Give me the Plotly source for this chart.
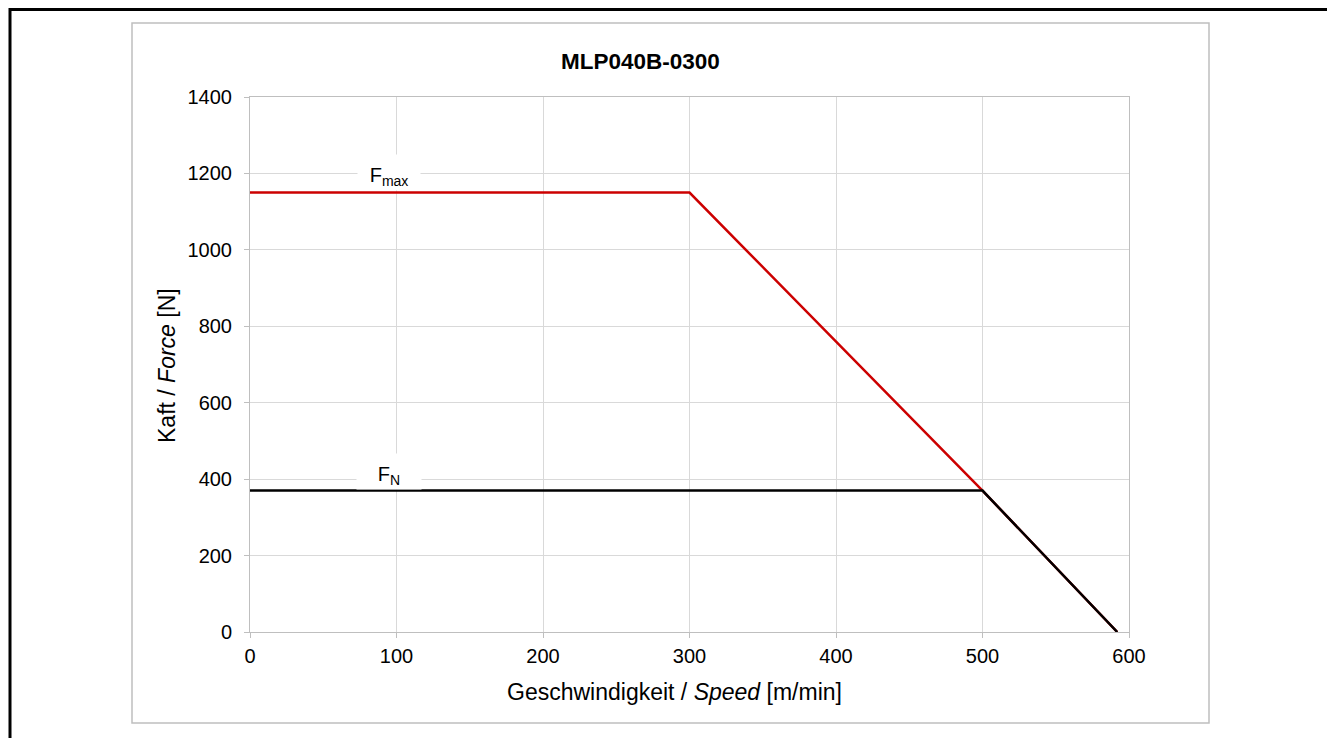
import plotly.graph_objects as go

# Data
fmax_speed = [0, 300, 500, 592]
fmax_force = [1150, 1150, 370, 0]
fn_speed = [0, 500, 592]
fn_force = [370, 370, 0]
x_ticks = [0, 100, 200, 300, 400, 500, 600]
y_ticks = [0, 200, 400, 600, 800, 1000, 1200, 1400]

W, H = 1327, 738
L, R, T, B = 250, 1129, 97, 632
PW, PH = R - L, B - T

def px(x):
    return (x - L) / PW

def py(y):
    return (B - y) / PH

FONT = "Liberation Sans, Arial, sans-serif"

fig = go.Figure()
fig.add_trace(go.Scatter(x=fmax_speed, y=fmax_force, mode="lines",
                         line=dict(color="#cc0000", width=2.5), showlegend=False))
fig.add_trace(go.Scatter(x=fn_speed, y=fn_force, mode="lines",
                         line=dict(color="#000000", width=2.5), showlegend=False))

axis_common = dict(showgrid=True, gridcolor="#d9d9d9", gridwidth=1,
                   showline=True, linecolor="#bfbfbf", linewidth=1, mirror=True,
                   ticks="outside", ticklen=5, tickcolor="#bfbfbf",
                   tickfont=dict(family=FONT, size=20, color="#000000"),
                   zeroline=False)

fig.update_layout(
    width=W, height=H,
    margin=dict(l=L, r=W - R, t=T, b=H - B),
    paper_bgcolor="white", plot_bgcolor="white",
    xaxis=dict(range=[0, 600], tickvals=x_ticks, ticklabelstandoff=1, **axis_common),
    yaxis=dict(range=[0, 1400], tickvals=y_ticks, ticklabelstandoff=8, **axis_common),
    shapes=[
        dict(type="rect", xref="paper", yref="paper",
             x0=px(132), x1=px(1209), y0=py(23), y1=py(723),
             line=dict(color="#bfbfbf", width=1.5), layer="below"),
        dict(type="line", xref="paper", yref="paper",
             x0=px(9), x1=px(1330), y0=py(9.5), y1=py(9.5),
             line=dict(color="#000000", width=3)),
        dict(type="line", xref="paper", yref="paper",
             x0=px(10), x1=px(10), y0=py(8), y1=py(745),
             line=dict(color="#000000", width=3)),
    ],
    annotations=[
        dict(text="<b>MLP040B-0300</b>", xref="paper", yref="paper",
             x=px(640), y=py(61), xanchor="center", yanchor="middle", showarrow=False,
             font=dict(family=FONT, size=22.5, color="#000000")),
        dict(text="Geschwindigkeit / <i>Speed</i> [m/min]", xref="paper", yref="paper",
             x=px(674), y=py(692), xanchor="center", yanchor="middle", showarrow=False,
             font=dict(family=FONT, size=23, color="#000000")),
        dict(text="Kaft / <i>Force</i> [N]", xref="paper", yref="paper",
             x=px(167), y=py(366), xanchor="center", yanchor="middle",
             showarrow=False, textangle=-90,
             font=dict(family=FONT, size=23, color="#000000")),
        dict(text="F<sub>max</sub>", xref="x", yref="y", x=95, y=(B - 172.5) / PH * 1400,
             showarrow=False, bgcolor="white", width=60, height=33, valign="bottom",
             font=dict(family=FONT, size=20, color="#000000")),
        dict(text="F<sub>N</sub>", xref="x", yref="y", x=95, y=(B - 471.5) / PH * 1400,
             showarrow=False, bgcolor="white", width=62, height=33, valign="bottom",
             font=dict(family=FONT, size=20, color="#000000")),
    ],
)

fig.write_html("out.html")
